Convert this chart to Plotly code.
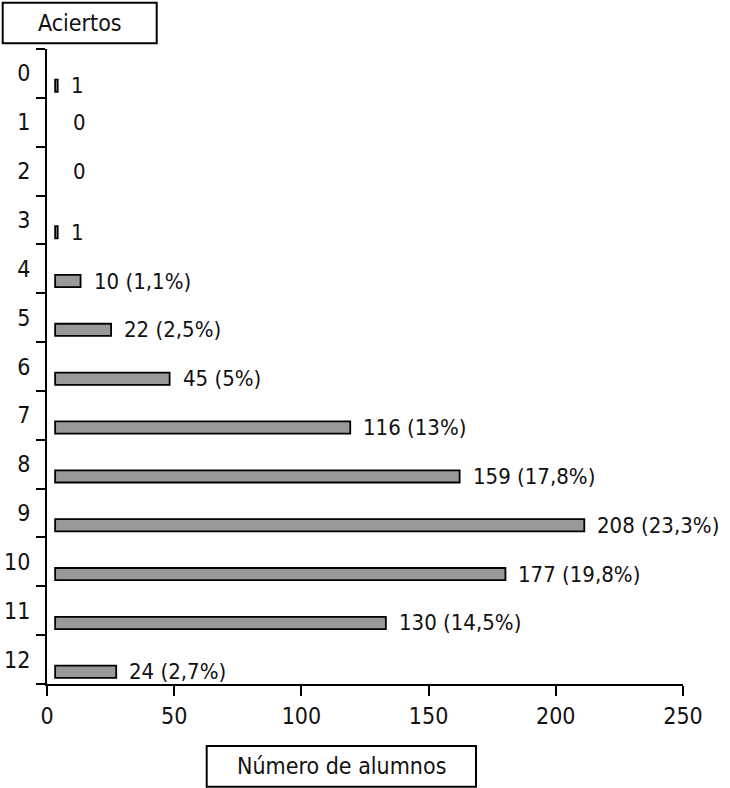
import plotly.graph_objects as go

# ---- data ----
categories = list(range(13))  # Aciertos
alumnos = [1, 0, 0, 1, 10, 22, 45, 116, 159, 208, 177, 130, 24]
porcentajes = ["", "", "", "", "1,1", "2,5", "5", "13", "17,8", "23,3", "19,8", "14,5", "2,7"]
x_ticks = [0, 50, 100, 150, 200, 250]
y_title = "Aciertos"
x_title = "Número de alumnos"

# ---- style ----
FONT = "DejaVu Sans Condensed, Liberation Sans Narrow, Arial Narrow, sans-serif"
FS = 22
FS_TITLE = 23
INK = "#111111"
BAR_BASE = 3.2
BAR_W = 0.25
BAR_OFF = 0.125

labels = [f"{v} ({p}%)" if p else f"{v}" for v, p in zip(alumnos, porcentajes)]

fig = go.Figure()
fig.add_trace(go.Bar(
    y=categories, x=alumnos, base=BAR_BASE, orientation="h",
    width=BAR_W, offset=BAR_OFF,
    marker=dict(color="#999999",
                line=dict(color="#000000", width=[1.8 if v > 0 else 0 for v in alumnos])),
    hoverinfo="skip",
))

annotations = []
for c, v, t in zip(categories, alumnos, labels):
    yy = c + BAR_OFF + BAR_W / 2 if v > 0 else c
    annotations.append(dict(
        x=BAR_BASE + v, y=yy, xref="x", yref="y", text=t, showarrow=False,
        xanchor="left", yanchor="middle", xshift=11 if v > 0 else 16,
        font=dict(family=FONT, size=FS, color=INK),
    ))

# axis-title boxes (paper coordinates relative to plot area)
annotations.append(dict(x=0.052, y=1.041, xref="paper", yref="paper", text=y_title,
                        showarrow=False, xanchor="center", yanchor="middle",
                        font=dict(family=FONT, size=FS_TITLE, color=INK)))
annotations.append(dict(x=0.4629, y=-0.1289, xref="paper", yref="paper", text=x_title,
                        showarrow=False, xanchor="center", yanchor="middle",
                        font=dict(family=FONT, size=FS_TITLE, color=INK)))

shapes = [
    dict(type="rect", xref="paper", yref="paper",
         x0=(2.7 - 47) / 636, x1=(156.7 - 47) / 636,
         y0=(684 - 43.3) / 635, y1=(684 - 2.7) / 635,
         line=dict(color="#000000", width=2), fillcolor="rgba(0,0,0,0)"),
    dict(type="rect", xref="paper", yref="paper",
         x0=(206.7 - 47) / 636, x1=(476 - 47) / 636,
         y0=(684 - 786.7) / 635, y1=(684 - 746) / 635,
         line=dict(color="#000000", width=2), fillcolor="rgba(0,0,0,0)"),
]

fig.update_layout(
    width=730, height=788,
    margin=dict(l=47, r=47, t=49, b=104, pad=0),
    paper_bgcolor="white", plot_bgcolor="white",
    showlegend=False,
    font=dict(family=FONT, size=FS, color=INK),
    annotations=annotations, shapes=shapes,
    xaxis=dict(
        range=[0, 250], tickvals=x_ticks, ticktext=[str(v) for v in x_ticks],
        ticks="outside", ticklen=10, tickwidth=2, tickcolor="#000",
        showline=True, linewidth=2, linecolor="#000",
        showgrid=False, zeroline=False, automargin=False,
        tickfont=dict(family=FONT, size=FS_TITLE, color=INK),
    ),
    yaxis=dict(
        range=[12.5, -0.5], tickvals=categories, ticktext=[str(c) for c in categories],
        ticks="", ticklabelstandoff=10,
        showline=True, linewidth=2, linecolor="#000",
        showgrid=False, zeroline=False, automargin=False,
        tickfont=dict(family=FONT, size=FS_TITLE, color=INK),
        minor=dict(tickvals=[c - 0.5 for c in categories] + [categories[-1] + 0.5],
                   ticks="outside", ticklen=9, tickwidth=2, tickcolor="#000",
                   showgrid=False),
    ),
)

fig.write_html(
    "out.html",
    config={"displayModeBar": False},
    post_script="document.body.style.margin='0';document.body.style.overflow='hidden';",
)
